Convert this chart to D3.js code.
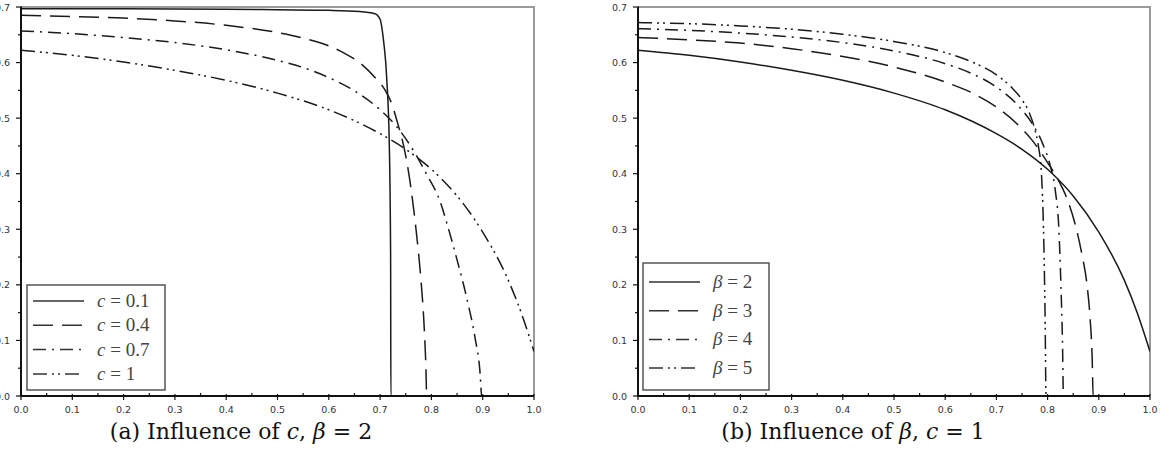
<!DOCTYPE html>
<html>
<head>
<meta charset="utf-8">
<script src="https://cdn.jsdelivr.net/npm/d3@7"></script>
<style>
  body { margin: 0; background: #fff; }
  svg { display: block; }
</style>
</head>
<body>
<svg id="chart" width="1161" height="465"></svg>
<script>
// ticks
const majorTicksX = [0, 0.1, 0.2, 0.3, 0.4, 0.5, 0.6, 0.7, 0.8, 0.9, 1.0];
const majorTicksY = [0, 0.1, 0.2, 0.3, 0.4, 0.5, 0.6, 0.7];
const minorTicksX = [0.05, 0.15, 0.25, 0.35, 0.45, 0.55, 0.65, 0.75, 0.85, 0.95];
const minorTicksY = [0.05, 0.15, 0.25, 0.35, 0.45, 0.55, 0.65];

// panel (a): influence of c, beta = 2
const cLabels = ["0.1", "0.4", "0.7", "1"];
const c01 = [[0, 0.697], [0.2, 0.697], [0.4, 0.696], [0.5, 0.695], [0.6, 0.694], [0.66, 0.692], [0.69, 0.688],
  [0.70, 0.678], [0.706, 0.645], [0.713, 0.57], [0.718, 0.45], [0.7205, 0.25], [0.721, 0], [1.0, 0]];
const c04 = [[0, 0.685], [0.1, 0.683], [0.2, 0.680], [0.3, 0.675], [0.4, 0.667], [0.5, 0.654], [0.55, 0.644],
  [0.6, 0.630], [0.63, 0.617], [0.66, 0.600], [0.69, 0.573], [0.71, 0.55], [0.72, 0.532], [0.733, 0.495],
  [0.75, 0.432], [0.76, 0.375], [0.77, 0.30], [0.78, 0.205], [0.785, 0.14], [0.789, 0.06], [0.791, 0], [1.0, 0]];
const c07 = [[0, 0.657], [0.1, 0.652], [0.2, 0.645], [0.3, 0.636], [0.4, 0.623], [0.5, 0.604], [0.55, 0.591],
  [0.6, 0.573], [0.65, 0.549], [0.7, 0.515], [0.733, 0.484], [0.77, 0.434], [0.79, 0.40], [0.817, 0.35],
  [0.832, 0.305], [0.85, 0.245], [0.87, 0.172], [0.885, 0.105], [0.895, 0.04], [0.898, 0], [1.0, 0]];
const c10 = [[0, 0.622], [0.1, 0.613], [0.2, 0.601], [0.3, 0.586], [0.4, 0.568], [0.5, 0.545], [0.6, 0.515],
  [0.7, 0.472], [0.75, 0.444], [0.8, 0.408], [0.85, 0.36], [0.9, 0.295], [0.95, 0.208], [0.975, 0.15], [1.0, 0.08]];

// panel (b): influence of beta, c = 1
const betaLabels = ["2", "3", "4", "5"];
const b2 = c10;
const b3 = [[0, 0.645], [0.1, 0.641], [0.2, 0.635], [0.3, 0.625], [0.4, 0.611], [0.5, 0.592], [0.6, 0.565],
  [0.66, 0.542], [0.7, 0.52], [0.74, 0.49], [0.77, 0.46], [0.8, 0.42], [0.82, 0.39], [0.84, 0.35],
  [0.855, 0.305], [0.867, 0.255], [0.877, 0.2], [0.883, 0.14], [0.887, 0.07], [0.889, 0], [1.0, 0]];
const b4 = [[0, 0.661], [0.1, 0.658], [0.2, 0.653], [0.3, 0.646], [0.4, 0.636], [0.5, 0.621], [0.6, 0.598],
  [0.65, 0.581], [0.7, 0.556], [0.74, 0.525], [0.77, 0.49], [0.79, 0.455], [0.805, 0.415], [0.815, 0.37],
  [0.822, 0.3], [0.826, 0.2], [0.829, 0.1], [0.831, 0], [1.0, 0]];
const b5 = [[0, 0.672], [0.1, 0.670], [0.2, 0.666], [0.3, 0.660], [0.4, 0.651], [0.5, 0.638], [0.6, 0.618],
  [0.65, 0.602], [0.7, 0.578], [0.73, 0.555], [0.75, 0.533], [0.765, 0.508], [0.775, 0.48], [0.782, 0.45],
  [0.788, 0.40], [0.792, 0.3], [0.795, 0.15], [0.797, 0], [1.0, 0]];

const dashStyles = [null, "20,9", "13,6,2,6", "14,5,2,4,2,5"];

const svg = d3.select("#chart");

function drawPanel(opts) {
  const x = d3.scaleLinear().domain([0, 1]).range([opts.left, opts.right]);
  const y = d3.scaleLinear().domain([0, 0.7]).range([opts.bottom, opts.top]);
  const g = svg.append("g");

  const clipId = "clip-" + opts.id;
  svg.append("clipPath").attr("id", clipId)
    .append("rect")
    .attr("x", opts.left).attr("y", opts.top - 1)
    .attr("width", opts.right - opts.left).attr("height", opts.bottom - opts.top + 1);

  // gray frame top/right
  g.append("path")
    .attr("d", `M${opts.left},${opts.top}H${opts.right}V${opts.bottom}`)
    .attr("fill", "none").attr("stroke", "#9a9a9a").attr("stroke-width", 2);

  // curves
  const line = d3.line().x((d) => x(d[0])).y((d) => y(d[1])).curve(d3.curveMonotoneX);
  opts.series.forEach((s, i) => {
    g.append("path")
      .datum(s)
      .attr("clip-path", `url(#${clipId})`)
      .attr("d", line)
      .attr("fill", "none")
      .attr("stroke", "#1a1a1a")
      .attr("stroke-width", 1.5)
      .attr("stroke-dasharray", dashStyles[i]);
  });

  // axes (black left/bottom)
  g.append("path")
    .attr("d", `M${opts.left},${opts.top}V${opts.bottom}H${opts.right}`)
    .attr("fill", "none").attr("stroke", "#111").attr("stroke-width", 2);

  // x ticks
  g.selectAll(".xmaj").data(majorTicksX).join("line")
    .attr("x1", (d) => x(d)).attr("x2", (d) => x(d))
    .attr("y1", opts.bottom - 2).attr("y2", opts.bottom + 4)
    .attr("stroke", "#111").attr("stroke-width", 1.2);
  g.selectAll(".xmin").data(minorTicksX).join("line")
    .attr("x1", (d) => x(d)).attr("x2", (d) => x(d))
    .attr("y1", opts.bottom - 3).attr("y2", opts.bottom + 1)
    .attr("stroke", "#111").attr("stroke-width", 1.2);
  g.selectAll(".xlab").data(majorTicksX).join("text")
    .attr("x", (d) => x(d)).attr("y", opts.bottom + 17)
    .attr("text-anchor", "middle")
    .attr("font-family", "DejaVu Sans")
    .attr("font-size", 9.5)
    .attr("fill", "#333")
    .text((d) => d.toFixed(1));

  // y ticks
  g.selectAll(".ymaj").data(majorTicksY).join("line")
    .attr("x1", opts.left - 5).attr("x2", opts.left + 1)
    .attr("y1", (d) => y(d)).attr("y2", (d) => y(d))
    .attr("stroke", "#111").attr("stroke-width", 1.2);
  g.selectAll(".ymin").data(minorTicksY).join("line")
    .attr("x1", opts.left - 3).attr("x2", opts.left + 1)
    .attr("y1", (d) => y(d)).attr("y2", (d) => y(d))
    .attr("stroke", "#111").attr("stroke-width", 1.2);
  g.selectAll(".ylab").data(majorTicksY).join("text")
    .attr("x", opts.left - 11).attr("y", (d) => y(d) + 3.5)
    .attr("text-anchor", "end")
    .attr("font-family", "DejaVu Sans")
    .attr("font-size", 9.5)
    .attr("fill", "#333")
    .text((d) => d.toFixed(1));

  // legend
  const lg = opts.legend;
  g.append("rect")
    .attr("x", lg.x).attr("y", lg.y).attr("width", lg.w).attr("height", lg.h)
    .attr("fill", "#fff").attr("stroke", "#555").attr("stroke-width", 1.5);
  opts.labels.forEach((lab, i) => {
    const ey = lg.y + lg.first + i * lg.step;
    g.append("line")
      .attr("x1", lg.x + 6).attr("x2", lg.x + 57)
      .attr("y1", ey).attr("y2", ey)
      .attr("stroke", "#333").attr("stroke-width", 1.5)
      .attr("stroke-dasharray", dashStyles[i]);
    const t = g.append("text")
      .attr("x", lg.x + 70).attr("y", ey + 6)
      .attr("font-family", "Liberation Serif")
      .attr("font-size", 19)
      .attr("fill", "#444");
    t.append("tspan").attr("font-style", "italic").text(opts.symbol);
    t.append("tspan").text(" = " + lab);
  });

  // caption
  const cap = svg.append("text")
    .attr("x", opts.capX).attr("y", 439)
    .attr("text-anchor", "middle")
    .attr("font-family", "DejaVu Serif")
    .attr("font-size", 22)
    .attr("fill", "#111");
  opts.caption.forEach((p) => {
    const ts = cap.append("tspan").text(p.t);
    if (p.i) ts.attr("font-style", "italic");
  });
}

drawPanel({
  id: "a", left: 21, right: 534, top: 7, bottom: 396,
  series: [c01, c04, c07, c10],
  labels: cLabels, symbol: "c",
  legend: { x: 27, y: 285, w: 138, h: 105, first: 16, step: 24.3 },
  capX: 241,
  caption: [{ t: "(a) Influence of " }, { t: "c", i: true }, { t: ", " }, { t: "β", i: true }, { t: " = 2" }]
});

drawPanel({
  id: "b", left: 638, right: 1150, top: 7, bottom: 396,
  series: [b2, b3, b4, b5],
  labels: betaLabels, symbol: "β",
  legend: { x: 643, y: 263, w: 126, h: 127, first: 19, step: 28.7 },
  capX: 853,
  caption: [{ t: "(b) Influence of " }, { t: "β", i: true }, { t: ", " }, { t: "c", i: true }, { t: " = 1" }]
});
</script>
</body>
</html>
